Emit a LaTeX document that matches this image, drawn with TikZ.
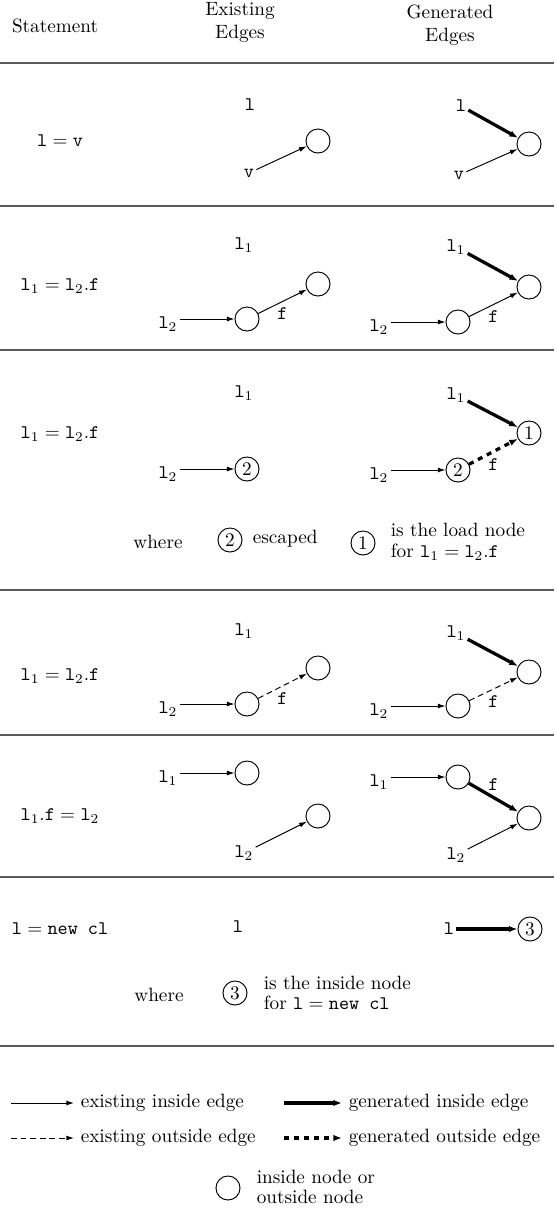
\documentclass[tikz,border=0pt]{standalone}
\usepackage{amsmath}
\usepackage{amssymb}
\usepackage{tikz}
\usetikzlibrary{arrows.meta,calc}

\begin{document}
\begin{tikzpicture}[x=0.52pt, y=-0.52pt, >=Latex,
  obj/.style={circle, draw, line width=0.5pt, minimum size=12.5pt, inner sep=0pt},
  lbl/.style={inner sep=1pt},
  var/.style={lbl, font=\ttfamily},
  note/.style={align=left, anchor=west, execute at begin node=\setlength{\baselineskip}{10.8pt}},
  inedge/.style={-{Latex[length=4pt,width=2.6pt]}, line width=0.5pt},
  outedge/.style={inedge, dash pattern=on 3pt off 2pt},
  geninedge/.style={-{Latex[length=4.5pt,width=3.4pt]}, line width=1.7pt},
  genoutedge/.style={geninedge, dash pattern=on 2.6pt off 2.6pt},
  rowline/.style={black!65, line width=0.7pt}]
\useasboundingbox (0,0) rectangle (554,1219);

% Header
\node (hstmt) at (55,26) {Statement};
\node[align=center] (hexist) at (240,22) {Existing\\Edges};
\node[align=center] (hgen) at (450,25) {Generated\\Edges};
\draw[rowline] (0,63) -- (554,63);

% Row 1: l = v
\node (s1) at (60,141) {$\mathtt{l} = \mathtt{v}$};
\node[var] (e1l) at (250,105) {l};
\node[obj] (e1c) at (318,141) {};
\node[var] (e1v) at (249,173) {v};
\draw[inedge] (e1v) -- (e1c);
\node[var] (g1l) at (461,106) {l};
\node[obj] (g1c) at (529,144) {};
\node[var] (g1v) at (459,175) {v};
\draw[geninedge] (g1l) -- (g1c);
\draw[inedge] (g1v) -- (g1c);
\draw[rowline] (0,206) -- (554,206);

% Row 2: l1 = l2.f
\node (s2) at (60,286) {$\mathtt{l}_1 = \mathtt{l}_2.\mathtt{f}$};
\node[lbl] (e2l1) at (244,245) {$\mathtt{l}_1$};
\node[obj] (e2c2) at (318,284) {};
\node[obj] (e2c1) at (247,319) {};
\node[lbl] (e2l2) at (168,324) {$\mathtt{l}_2$};
\draw[inedge] (e2l2.east |- e2c1) -- (e2c1);
\draw[inedge] (e2c1) -- node[var, below=2pt] (e2f) {f} (e2c2);
\node[lbl] (g2l1) at (456,247) {$\mathtt{l}_1$};
\node[obj] (g2c2) at (529,287) {};
\node[obj] (g2c1) at (458,322) {};
\node[lbl] (g2l2) at (379,327) {$\mathtt{l}_2$};
\draw[inedge] (g2l2.east |- g2c1) -- (g2c1);
\draw[inedge] (g2c1) -- node[var, below=2pt] (g2f) {f} (g2c2);
\draw[geninedge] (g2l1) -- (g2c2);
\draw[rowline] (0,350) -- (554,350);

% Row 3: l1 = l2.f, escaped base
\node (s3) at (60,434) {$\mathtt{l}_1 = \mathtt{l}_2.\mathtt{f}$};
\node[lbl] (e3l1) at (244,393) {$\mathtt{l}_1$};
\node[obj] (e3c) at (247,469) {2};
\node[lbl] (e3l2) at (168,474) {$\mathtt{l}_2$};
\draw[inedge] (e3l2.east |- e3c) -- (e3c);
\node[lbl] (g3l1) at (456,395) {$\mathtt{l}_1$};
\node[obj] (g3c1) at (529,433) {1};
\node[obj] (g3c2) at (458,470) {2};
\node[lbl] (g3l2) at (379,475) {$\mathtt{l}_2$};
\draw[inedge] (g3l2.east |- g3c2) -- (g3c2);
\draw[geninedge] (g3l1) -- (g3c1);
\draw[genoutedge] (g3c2) -- node[var, below=2pt] (g3f) {f} (g3c1);
\node (w3) at (158,542) {where};
\node[obj] (w3c2) at (230,540) {2};
\node[anchor=west] (w3esc) at (246,539) {escaped};
\node[obj] (w3c1) at (363,543) {1};
\node[note] (w3load) at (384,542)
  {is the load node\\for $\mathtt{l}_1 = \mathtt{l}_2.\mathtt{f}$};
\draw[rowline] (0,590) -- (554,590);

% Row 4: l1 = l2.f, outside edge
\node (s4) at (60,676) {$\mathtt{l}_1 = \mathtt{l}_2.\mathtt{f}$};
\node[lbl] (e4l1) at (244,631) {$\mathtt{l}_1$};
\node[obj] (e4c2) at (318,668) {};
\node[obj] (e4c1) at (247,704) {};
\node[lbl] (e4l2) at (168,709) {$\mathtt{l}_2$};
\draw[inedge] (e4l2.east |- e4c1) -- (e4c1);
\draw[outedge] (e4c1) -- node[var, below=2pt] (e4f) {f} (e4c2);
\node[lbl] (g4l1) at (456,633) {$\mathtt{l}_1$};
\node[obj] (g4c2) at (529,672) {};
\node[obj] (g4c1) at (458,706) {};
\node[lbl] (g4l2) at (379,711) {$\mathtt{l}_2$};
\draw[inedge] (g4l2.east |- g4c1) -- (g4c1);
\draw[outedge] (g4c1) -- node[var, below=2pt] (g4f) {f} (g4c2);
\draw[geninedge] (g4l1) -- (g4c2);
\draw[rowline] (0,735) -- (554,735);

% Row 5: l1.f = l2
\node (s5) at (60,816) {$\mathtt{l}_1.\mathtt{f} = \mathtt{l}_2$};
\node[obj] (e5c1) at (247,773) {};
\node[lbl] (e5l1) at (168,778) {$\mathtt{l}_1$};
\draw[inedge] (e5l1.east |- e5c1) -- (e5c1);
\node[obj] (e5c2) at (318,816) {};
\node[lbl] (e5l2) at (244,853) {$\mathtt{l}_2$};
\draw[inedge] (e5l2) -- (e5c2);
\node[obj] (g5c1) at (458,777) {};
\node[lbl] (g5l1) at (379,782) {$\mathtt{l}_1$};
\draw[inedge] (g5l1.east |- g5c1) -- (g5c1);
\node[obj] (g5c2) at (529,818) {};
\node[lbl] (g5l2) at (456,855) {$\mathtt{l}_2$};
\draw[inedge] (g5l2) -- (g5c2);
\draw[geninedge] (g5c1) -- node[var, above=2pt] (g5f) {f} (g5c2);
\draw[rowline] (0,877) -- (554,877);

% Row 6: l = new cl
\node (s6) at (60,929) {$\mathtt{l} = \texttt{new cl}$};
\node[var] (e6l) at (238,927) {l};
\node[var] (g6l) at (449,929) {l};
\node[obj] (g6c) at (530,929) {3};
\draw[geninedge] (g6l) -- (g6c);
\node (w6) at (159,995) {where};
\node[obj] (w6c) at (235,993) {3};
\node[note] (w6ins) at (257,993)
  {is the inside node\\for $\mathtt{l} = \texttt{new cl}$};
\draw[rowline] (0,1046) -- (554,1046);

% Key
\coordinate (k1a) at (11,1103);
\node[anchor=west] (k1t) at (74,1103) {existing inside edge};
\draw[inedge] (k1a) -- (k1t.west);
\coordinate (k2a) at (284,1103);
\node[anchor=west] (k2t) at (342,1103) {generated inside edge};
\draw[geninedge] (k2a) -- (k2t.west);
\coordinate (k3a) at (11,1138);
\node[anchor=west] (k3t) at (74,1138) {existing outside edge};
\draw[outedge] (k3a) -- (k3t.west);
\coordinate (k4a) at (284,1138);
\node[anchor=west] (k4t) at (342,1138) {generated outside edge};
\draw[genoutedge] (k4a) -- (k4t.west);
\node[obj] (k5c) at (228,1188) {};
\node[note] (k5t) at (250,1187) {inside node or\\outside node};
\end{tikzpicture}
\end{document}
